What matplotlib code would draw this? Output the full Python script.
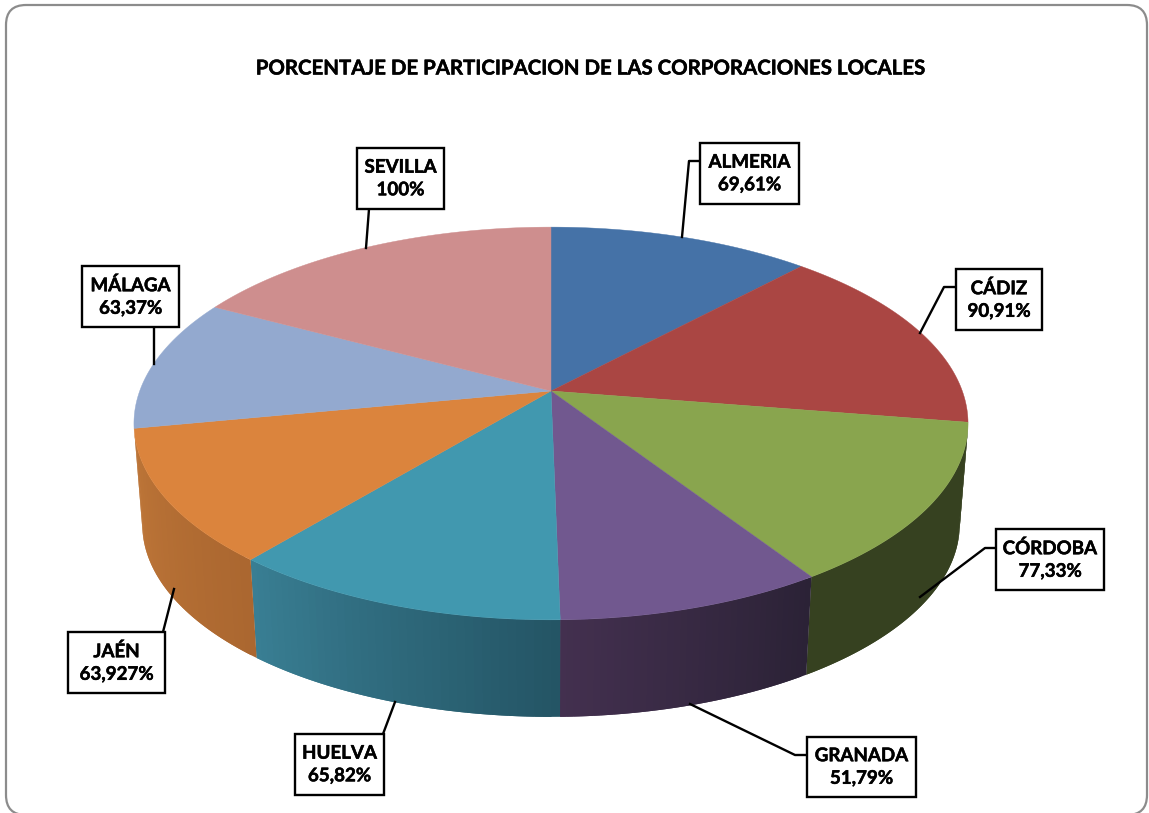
import numpy as np
from matplotlib import pyplot as plt
from matplotlib import patheffects
from matplotlib.patches import FancyBboxPatch, Rectangle
from matplotlib.colors import to_rgb

plt.rcParams['font.family'] = ['Lato', 'DejaVu Sans']

# data
provinces = ["ALMERIA", "CÁDIZ", "CÓRDOBA", "GRANADA", "HUELVA", "JAÉN", "MÁLAGA", "SEVILLA"]
values = [69.61, 90.91, 77.33, 51.79, 65.82, 63.927, 63.37, 100]
value_labels = ["69,61%", "90,91%", "77,33%", "51,79%", "65,82%", "63,927%", "63,37%", "100%"]
title = "PORCENTAJE DE PARTICIPACION DE LAS CORPORACIONES LOCALES"

# colours
top_colors = ["#4572A7", "#AA4643", "#89A54E", "#71588F", "#4198AF", "#DB843D", "#93A9CF", "#CE8E8E"]
# side colours at the right and left end of each visible wall
side_right = {2: "#364120", 3: "#2B2236", 4: "#245565", 5: "#AB6730"}
side_left = {2: "#364120", 3: "#43304F", 4: "#397E93", 5: "#BE7638"}

# label boxes, pixels: left, right, top, bottom
boxes = [(700, 799, 143, 204), (956, 1042, 269, 330), (996, 1104, 529, 590), (807, 916, 737, 797),
         (295, 384, 734, 795), (68, 165, 632, 693), (82, 179, 266, 327), (357, 444, 148, 209)]
leaders = [[(682, 237), (689, 161), (700, 161)], [(920, 333), (944, 287), (956, 287)],
           [(920, 597), (985, 548), (996, 548)], [(690, 704), (795, 755), (807, 755)],
           [(395, 702), (383, 734)], [(174, 589), (163, 632)],
           [(154, 364), (154, 327)], [(366, 248), (369, 209)]]

# pie geometry in pixels, with perspective k
CX, CY = 551, 391
A, B, K = 411.3, 191.0, 0.1654
SHRINK = 0.98
DEPTH = 101.6
STRIPS = 40


def top_rim(theta):
    x, y = np.sin(theta), np.cos(theta)
    s = 1 / (1 + K * y)
    return CX + A * x * s, CY - B * y * s


def bottom_rim(theta):
    px, py = top_rim(theta)
    return CX + (px - CX) * SHRINK, CY + DEPTH + (py - CY) * SHRINK


fig = plt.figure(figsize=(11.49, 8.13), dpi=100)
ax = fig.add_axes([0, 0, 1, 1])
ax.set_xlim(0, 1149)
ax.set_ylim(813, 0)
ax.axis("off")

# card outline, its bottom edge runs off the image
ax.add_patch(FancyBboxPatch((26, 25), 1101, 770, boxstyle="round,pad=20,rounding_size=20",
                            fc="white", ec="#8C8C8C", lw=1.6))

edges = np.cumsum([0] + values) / sum(values) * 2 * np.pi

# side wall first, split in strips for the shading
for i in side_right:
    t = np.linspace(edges[i], edges[i + 1], STRIPS + 1)
    c0, c1 = np.array(to_rgb(side_right[i])), np.array(to_rgb(side_left[i]))
    for j in range(STRIPS):
        # every strip runs on under the next one so no seams show
        t2 = t[j:j + 3]
        x1, y1 = top_rim(t2)
        x2, y2 = bottom_rim(t2[::-1])
        col = c0 + (c1 - c0) * j / (STRIPS - 1)
        ax.fill(np.r_[x1, x2], np.r_[y1, y2], color=col, lw=0, zorder=2)

# top face
for i in range(len(values)):
    t = np.linspace(edges[i], edges[i + 1], 80)
    x, y = top_rim(t)
    ax.fill(np.r_[CX, x], np.r_[CY, y], color=top_colors[i], lw=0.3, zorder=3)

# Lato bold is a bit thin next to the original font
heavier = [patheffects.withStroke(linewidth=0.35, foreground="black")]

# labels
for i in range(len(values)):
    pts = np.array(leaders[i])
    ax.plot(pts[:, 0], pts[:, 1], color="black", lw=1.7, zorder=4, solid_joinstyle="round")
    l, r, t, b = boxes[i]
    ax.add_patch(Rectangle((l, t), r - l, b - t, fc="white", ec="black", lw=1.7, zorder=5))
    ax.text((l + r) / 2, (t + b) / 2, provinces[i] + "\n" + value_labels[i], ha="center", va="center",
            fontsize=13.5, fontweight="bold", color="black", linespacing=1.4, zorder=6,
            path_effects=heavier)

ax.text(589, 68.5, title, ha="center", va="center", fontsize=14.7, fontweight="bold", color="black", zorder=6,
        path_effects=heavier)

fig.savefig("out.png", dpi=100)
